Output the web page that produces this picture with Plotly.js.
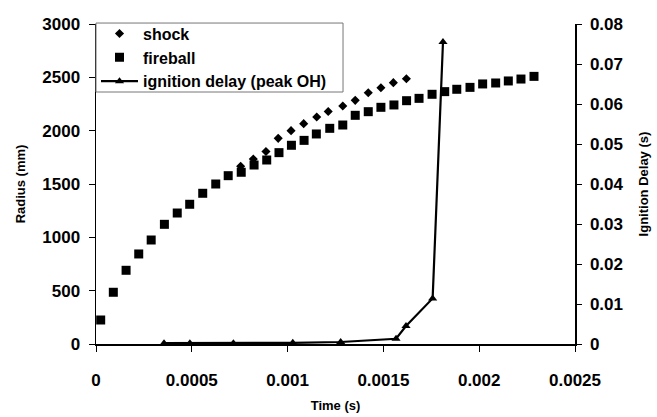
<!DOCTYPE html>
<html>
<head>
<meta charset="utf-8">
<script src="https://cdn.plot.ly/plotly-3.0.1.min.js"></script>
<style>html,body{margin:0;padding:0;background:#fff;}#chart{width:657px;height:417px;}</style>
</head>
<body>
<div id="chart"></div>
<script>
// Shock front radius (mm) vs time (s)
const shockTime = [0.000755, 0.000821, 0.000887, 0.000951, 0.001018, 0.001084, 0.001152, 0.001212, 0.001288, 0.001353, 0.001421, 0.001487, 0.001552, 0.00162];
const shockRadius = [1666, 1734, 1805, 1928, 2000, 2066, 2128, 2180, 2231, 2284, 2356, 2403, 2450, 2487];

// Fireball radius (mm) vs time (s)
const fireballTime = [0.0000245, 0.0000904, 0.000157, 0.000223, 0.000288, 0.000357, 0.000424, 0.000489, 0.000557, 0.000625,
  0.00069, 0.000758, 0.000825, 0.000891, 0.000955, 0.00102, 0.001086, 0.00115, 0.00122, 0.001288,
  0.001353, 0.001421, 0.001487, 0.001555, 0.001621, 0.001686, 0.001754, 0.00182, 0.001883, 0.001952,
  0.002018, 0.002086, 0.002152, 0.002218, 0.002286];
const fireballRadius = [225, 485, 691, 844, 975, 1122, 1228, 1310, 1413, 1500,
  1578, 1610, 1678, 1725, 1794, 1863, 1909, 1969, 2022, 2053,
  2144, 2178, 2219, 2241, 2281, 2303, 2341, 2366, 2388, 2406,
  2438, 2447, 2466, 2484, 2509];

// Ignition delay (s) vs time (s)
const ignitionTime = [0.000355, 0.00049, 0.000717, 0.001027, 0.001277, 0.001566, 0.001618, 0.001757, 0.001811];
const ignitionDelay = [0.0002, 0.0002, 0.0002, 0.0003, 0.0005, 0.0013, 0.0045, 0.0114, 0.0755];

const xTickVals = [0, 0.0005, 0.001, 0.0015, 0.002, 0.0025];
const xTickText = ['0', '0.0005', '0.001', '0.0015', '0.002', '0.0025'];
const y2TickVals = [0, 0.01, 0.02, 0.03, 0.04, 0.05, 0.06, 0.07, 0.08];
const y2TickText = ['0', '0.01', '0.02', '0.03', '0.04', '0.05', '0.06', '0.07', '0.08'];

const FONT = 'Liberation Sans, Arial, sans-serif';

const traces = [
  {x: shockTime, y: shockRadius, name: 'shock', type: 'scatter', mode: 'markers',
   marker: {symbol: 'diamond', size: 7, color: '#000'}},
  {x: fireballTime, y: fireballRadius, name: 'fireball', type: 'scatter', mode: 'markers',
   marker: {symbol: 'square', size: 9, color: '#000'}},
  {x: ignitionTime, y: ignitionDelay, name: 'ignition delay (peak OH)', type: 'scatter', mode: 'lines+markers',
   yaxis: 'y2', line: {color: '#000', width: 2.2}, marker: {symbol: 'triangle-up', size: 8, color: '#000'}}
];

const layout = {
  width: 657, height: 417,
  margin: {l: 96, r: 82, t: 24, b: 73},
  paper_bgcolor: '#fff', plot_bgcolor: '#fff',
  font: {family: FONT, color: '#000', size: 15, weight: 'bold'},
  showlegend: true,
  legend: {x: 0, y: 1.023, xanchor: 'left', yanchor: 'top', bgcolor: 'rgba(0,0,0,0)',
           borderwidth: 0,
           font: {family: FONT, size: 16, color: '#000', weight: 'bold'},
           tracegroupgap: 0, itemwidth: 37},
  shapes: [
    {type: 'rect', xref: 'paper', yref: 'paper', x0: 0, x1: 0.5157, y0: 0.7875, y1: 1.003,
     fillcolor: '#fff', line: {color: '#777', width: 1}, layer: 'above'}
  ],
  xaxis: {range: [0, 0.0025], tickmode: 'array', tickvals: xTickVals, ticktext: xTickText,
          showgrid: false, zeroline: false, showline: true, linecolor: '#000', linewidth: 1.5,
          ticks: 'outside', ticklen: 6, tickcolor: '#000', tickwidth: 1, ticklabelstandoff: 14,
          tickfont: {family: FONT, size: 17, weight: 'bold'},
          title: {text: 'Time (s)', font: {family: FONT, size: 13, weight: 'bold'}, standoff: 12}},
  yaxis: {range: [0, 3000], dtick: 500, tick0: 0,
          showgrid: false, zeroline: false, showline: true, linecolor: '#000', linewidth: 1.5,
          ticks: 'outside', ticklen: 6, tickcolor: '#000', tickwidth: 1, ticklabelstandoff: 5,
          tickfont: {family: FONT, size: 17, weight: 'bold'},
          title: {text: 'Radius (mm)', font: {family: FONT, size: 13, weight: 'bold'}, standoff: 13}},
  yaxis2: {range: [0, 0.08], overlaying: 'y', side: 'right', anchor: 'x',
           tickmode: 'array', tickvals: y2TickVals, ticktext: y2TickText,
           showgrid: false, zeroline: false, showline: true, linecolor: '#000', linewidth: 1.5,
           ticks: 'outside', ticklen: 5, tickcolor: '#000', tickwidth: 1, ticklabelstandoff: 5,
           tickfont: {family: FONT, size: 17, weight: 'bold'},
           title: {text: 'Ignition Delay (s)', font: {family: FONT, size: 13, weight: 'bold'}, standoff: 16}},
  yaxis3: {range: [0, 0.08], overlaying: 'y', side: 'right', anchor: 'x',
           tickmode: 'array', tickvals: y2TickVals, showticklabels: false,
           showgrid: false, zeroline: false, showline: false,
           ticks: 'inside', ticklen: 6, tickcolor: '#000', tickwidth: 1}
};

Plotly.newPlot('chart', traces, layout, {staticPlot: true, displayModeBar: false});
</script>
</body>
</html>
